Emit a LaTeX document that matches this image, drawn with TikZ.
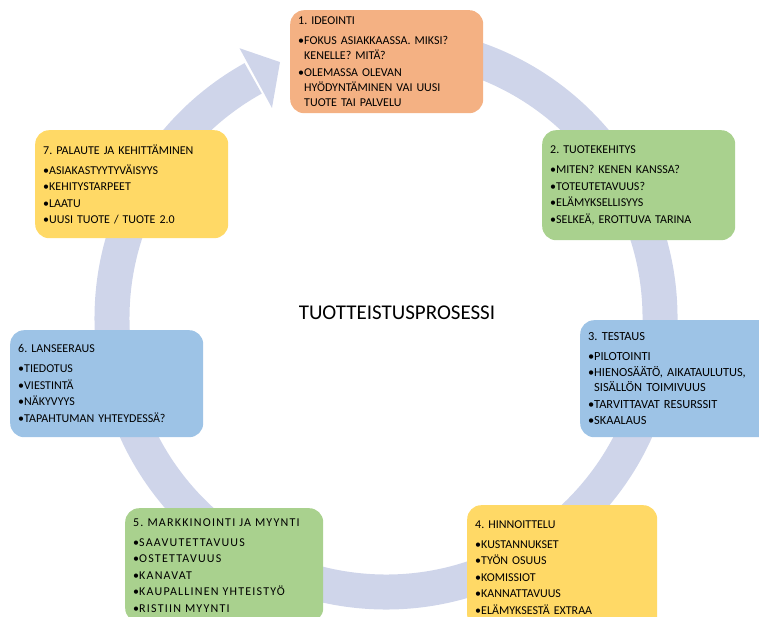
\documentclass[tikz,border=0pt]{standalone}
\usepackage{fontspec}
\setmainfont{Carlito}
\definecolor{ringblue}{HTML}{CFD5EA}
\definecolor{orangebox}{HTML}{F4B183}
\definecolor{greenbox}{HTML}{A9D18E}
\definecolor{bluebox}{HTML}{9DC3E6}
\definecolor{yellowbox}{HTML}{FFD966}
\newcommand{\bul}{\makebox[6pt][l]{•}}
\newcommand{\cnt}{\hspace*{6pt}}
\frenchspacing
\begin{document}
\begin{tikzpicture}[x=1pt,y=-1pt,
    stage/.style={rounded corners=14pt, inner xsep=8pt, inner ysep=4pt,
      anchor=north west, align=left, font=\fontsize{12}{15}\selectfont},
    ring/.style={draw=ringblue, line width=35pt}]
  \clip (0,0) rectangle (759,617);
  % kehanuoli
  \begin{scope}[shift={(386,318)}, yscale=-1]
    \draw[ring] (85:274) arc[start angle=85, end angle=-241, radius=274];
    \fill[ringblue] (118.5:307) -- (112.5:277) -- (118.5:239) -- cycle;
  \end{scope}
  % vaiheet
  \node[stage, fill=orangebox, text width=177pt, minimum height=103pt] (ideointi) at (290,10)
    {1. IDEOINTI\\[5pt]
     \bul FOKUS ASIAKKAASSA. MIKSI?\\ \cnt KENELLE? MITÄ?\\[1.5pt]
     \bul OLEMASSA OLEVAN\\ \cnt HYÖDYNTÄMINEN VAI UUSI\\ \cnt TUOTE TAI PALVELU};
  \node[stage, fill=greenbox, text width=177pt, minimum height=110pt] (tuotekehitys) at (542,130)
    {2. TUOTEKEHITYS\\[5pt]
     \bul MITEN? KENEN KANSSA?\\[1.5pt]
     \bul TOTEUTETAVUUS?\\[1.5pt]
     \bul ELÄMYKSELLISYYS\\[1.5pt]
     \bul SELKEÄ, EROTTUVA TARINA};
  \node[stage, fill=bluebox, text width=179pt, minimum height=117pt,
    font=\fontsize{12.4}{15}\selectfont] (testaus) at (580,320)
    {3. TESTAUS\\[5pt]
     \bul PILOTOINTI\\[1.5pt]
     \bul HIENOSÄÄTÖ, AIKATAULUTUS,\\ \cnt SISÄLLÖN TOIMIVUUS\\[1.5pt]
     \bul TARVITTAVAT RESURSSIT\\[1.5pt]
     \bul SKAALAUS};
  \node[stage, fill=yellowbox, text width=174pt, minimum height=124pt] (hinnoittelu) at (467,505)
    {4. HINNOITTELU\\[5pt]
     \bul KUSTANNUKSET\\[1.5pt]
     \bul TYÖN OSUUS\\[1.5pt]
     \bul KOMISSIOT\\[1.5pt]
     \bul KANNATTAVUUS\\[1.5pt]
     \bul ELÄMYKSESTÄ EXTRAA};
  \node[stage, fill=greenbox, text width=182pt, minimum height=114pt,
    font=\fontsize{12}{15}\selectfont\addfontfeature{LetterSpace=10}] (markkinointi) at (125,508)
    {5. MARKKINOINTI JA MYYNTI\\[5pt]
     \bul SAAVUTETTAVUUS\\[1.5pt]
     \bul OSTETTAVUUS\\[1.5pt]
     \bul KANAVAT\\[1.5pt]
     \bul KAUPALLINEN YHTEISTYÖ\\[1.5pt]
     \bul RISTIIN MYYNTI};
  \node[stage, fill=bluebox, text width=177pt, minimum height=107pt] (lanseeraus) at (10,330)
    {6. LANSEERAUS\\[5pt]
     \bul TIEDOTUS\\[1.5pt]
     \bul VIESTINTÄ\\[1.5pt]
     \bul NÄKYVYYS\\[1.5pt]
     \bul TAPAHTUMAN YHTEYDESSÄ?};
  \node[stage, fill=yellowbox, text width=177pt, minimum height=108pt] (palaute) at (35,130)
    {7. PALAUTE JA KEHITTÄMINEN\\[5pt]
     \bul ASIAKASTYYTYVÄISYYS\\[1.5pt]
     \bul KEHITYSTARPEET\\[1.5pt]
     \bul LAATU\\[1.5pt]
     \bul UUSI TUOTE / TUOTE 2.0};
  \node[font=\fontsize{21}{24}\selectfont] (otsikko) at (397,313) {TUOTTEISTUSPROSESSI};
\end{tikzpicture}
\end{document}
